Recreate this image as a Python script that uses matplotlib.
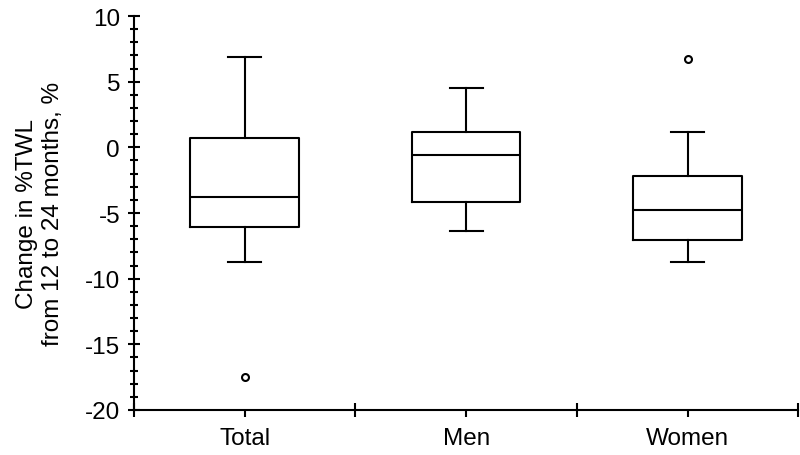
import numpy as np
import matplotlib.pyplot as plt
from matplotlib.ticker import MultipleLocator, FixedLocator

plt.rcParams['font.family'] = ['Liberation Sans', 'DejaVu Sans']
plt.rcParams['axes.unicode_minus'] = False

# 组别和箱线图数值
groups = ['Total', 'Men', 'Women']
whislo = [-8.75, -6.4, -8.75]
q1 = [-6.1, -4.2, -7.05]
med = [-3.8, -0.6, -4.8]
q3 = [0.7, 1.15, -2.2]
whishi = [6.85, 4.5, 1.2]
fliers = [[-17.5], [], [6.7]]

stats = []
for i in range(len(groups)):
    stats.append({'label': groups[i], 'whislo': whislo[i], 'q1': q1[i],
                  'med': med[i], 'q3': q3[i], 'whishi': whishi[i],
                  'fliers': fliers[i]})

fig = plt.figure(figsize=(8, 4.56), dpi=100)
ax = fig.add_axes([0.1675, 0.0987, 0.8305, 0.864])

lw = 1.5
ax.bxp(stats, positions=range(len(groups)), widths=0.49, capwidths=0.15,
       boxprops=dict(color='black', linewidth=lw),
       medianprops=dict(color='black', linewidth=lw),
       whiskerprops=dict(color='black', linewidth=lw),
       capprops=dict(color='black', linewidth=lw),
       flierprops=dict(marker='o', markersize=5, markerfacecolor='none',
                       markeredgecolor='black', markeredgewidth=1.5))

ax.set_xlim(-0.5, 2.5)
ax.set_ylim(-20, 10)

for s in ['top', 'right']:
    ax.spines[s].set_visible(False)
for s in ['left', 'bottom']:
    ax.spines[s].set_linewidth(lw)

fs = 17.5
ax.yaxis.set_major_locator(MultipleLocator(5))
ax.yaxis.set_minor_locator(MultipleLocator(1))
ax.tick_params(axis='y', which='major', direction='inout', length=8, width=lw,
               labelsize=fs, pad=6)
ax.tick_params(axis='y', which='minor', direction='inout', length=6, width=lw)

ax.set_xticks(range(len(groups)))
ax.set_xticklabels(groups)
ax.xaxis.set_minor_locator(FixedLocator([-0.5, 0.5, 1.5, 2.5]))
ax.tick_params(axis='x', which='major', direction='out', length=5, width=lw,
               labelsize=fs, pad=7)
ax.tick_params(axis='x', which='minor', direction='inout', length=10, width=lw)

ax.set_ylabel('Change in %TWL\nfrom 12 to 24 months, %', fontsize=fs,
              linespacing=1.2)
ax.yaxis.set_label_coords(-0.106, 0.5)

fig.savefig('out.png', dpi=100)
